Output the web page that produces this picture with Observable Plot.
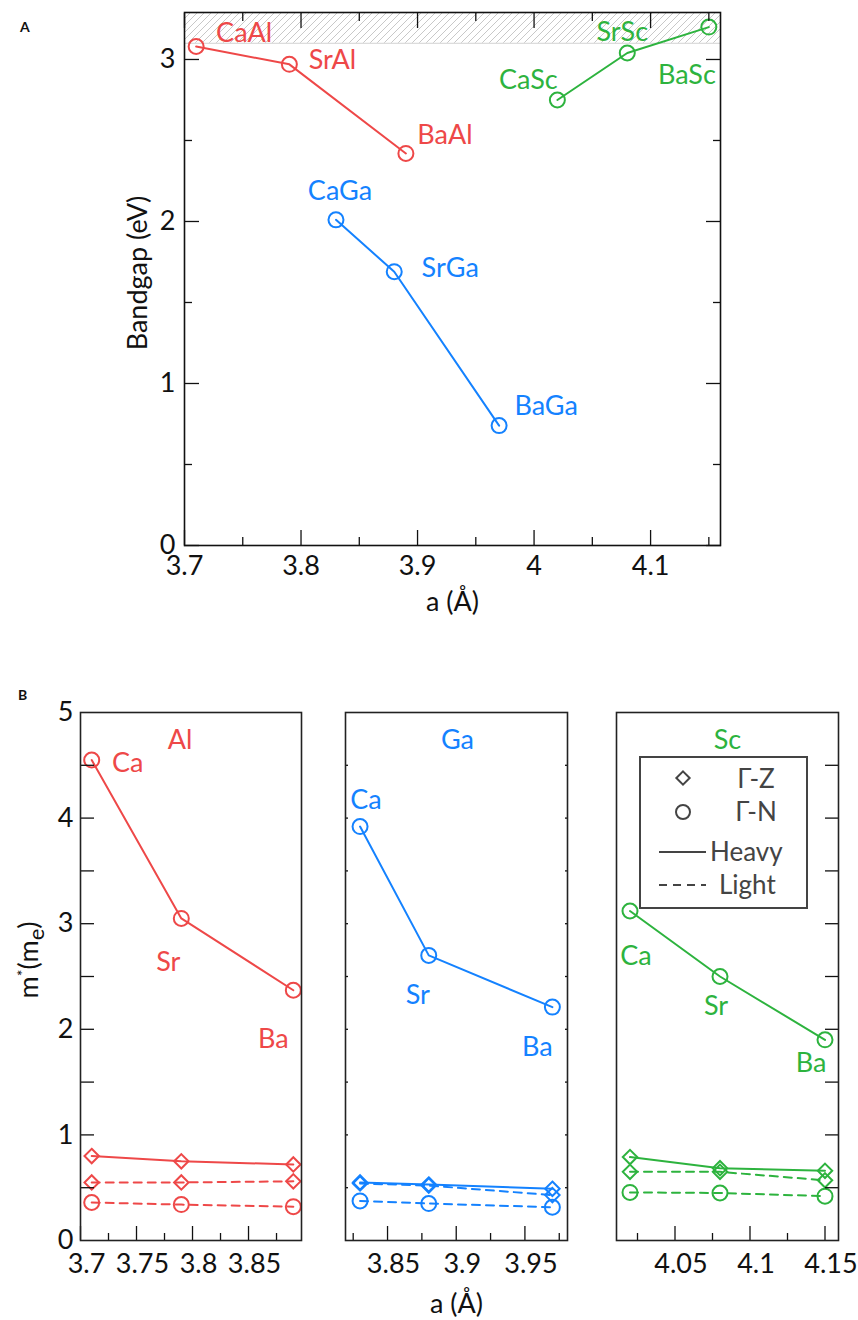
<!DOCTYPE html>
<html>
<head>
<meta charset="utf-8">
<script src="https://cdn.jsdelivr.net/npm/d3@7"></script>
<script src="https://cdn.jsdelivr.net/npm/@observablehq/plot@0.6"></script>
<style>
  body { margin: 0; background: #fff; font-family: Lato, "Open Sans", sans-serif; }
  #root { position: relative; width: 858px; height: 1320px; overflow: hidden; }
  .abs { position: absolute; }
  .panel-letter { position: absolute; font-weight: 700; font-size: 14px; color: #111; }
  #mlabel { position: absolute; left: 30px; top: 960px; transform: translate(-50%, -50%) rotate(-90deg);
            font-size: 27px; color: #111; white-space: nowrap; }
  #mlabel sup { font-size: 16px; vertical-align: 10px; }
  #mlabel sub { font-size: 22px; vertical-align: -6px; }
</style>
</head>
<body>
<div id="root">
  <div class="panel-letter" style="left:20px;top:18px;">A</div>
  <div class="panel-letter" style="left:18px;top:686px;">B</div>
  <div id="mlabel">m<sup>*</sup>(m<sub>e</sub>)</div>
</div>
<script>
// ---------------- DATA ----------------
// Panel A: bandgap vs lattice constant
const compounds = ["CaAl", "SrAl", "BaAl", "CaGa", "SrGa", "BaGa", "CaSc", "SrSc", "BaSc"];
const compoundFamily = ["Al", "Al", "Al", "Ga", "Ga", "Ga", "Sc", "Sc", "Sc"];
const latticeA = [3.71, 3.79, 3.89, 3.83, 3.88, 3.97, 4.02, 4.08, 4.15];
const bandgap = [3.08, 2.97, 2.42, 2.01, 1.69, 0.74, 2.75, 3.04, 3.20];
const hatchBand = [3.1, 3.29];
const xMajorA = [3.7, 3.8, 3.9, 4.0, 4.1];
const xMinorA = [3.75, 3.85, 3.95, 4.05, 4.15];
const yMajorA = [0, 1, 2, 3];
const yMinorA = [0.5, 1.5, 2.5];

// Panel B: effective masses
const cations = ["Ca", "Sr", "Ba"];
const families = ["Al", "Ga", "Sc"];
const latticeAl = [3.71, 3.79, 3.89];
const latticeGa = [3.83, 3.88, 3.97];
const latticeSc = [4.02, 4.08, 4.15];
const heavyGN_Al = [4.55, 3.05, 2.37];
const heavyGZ_Al = [0.80, 0.75, 0.72];
const lightGZ_Al = [0.55, 0.55, 0.56];
const lightGN_Al = [0.36, 0.34, 0.32];
const heavyGN_Ga = [3.92, 2.70, 2.21];
const heavyGZ_Ga = [0.55, 0.53, 0.49];
const lightGZ_Ga = [0.54, 0.52, 0.43];
const lightGN_Ga = [0.375, 0.35, 0.315];
const heavyGN_Sc = [3.12, 2.50, 1.90];
const heavyGZ_Sc = [0.79, 0.685, 0.66];
const lightGZ_Sc = [0.65, 0.65, 0.57];
const lightGN_Sc = [0.455, 0.45, 0.42];
const yMajorB = [0, 1, 2, 3, 4, 5];
const yTicksB = [0.5, 1, 1.5, 2, 2.5, 3, 3.5, 4, 4.5];
const xMajorB = [[3.7, 3.75, 3.8, 3.85], [3.85, 3.9, 3.95], [4.05, 4.1, 4.15]];
const xMinorB = [[3.725, 3.775, 3.825, 3.875], [3.825, 3.875, 3.925, 3.975], [4.025, 4.075, 4.125]];
const xDomainsB = [[3.7, 3.8973], [3.8194, 3.981], [4.011, 4.159]];
const legendLabels = ["Γ-Z", "Γ-N", "Heavy", "Light"];

// ---------------- STYLE ----------------
const FONT = "Lato, 'Open Sans', sans-serif";
const FS = 27;
const colors = {Al: "#EE4848", Ga: "#1482FF", Sc: "#2DB33E"};
const INK = "#111";
const DASH = "8,6";
// label offsets (px) of annotation texts relative to their point
const labelOffA = [[48, -13], [43, -4], [39, -18], [4, -29], [56, -3], [47, -19], [-29, -20], [-5, -21], [-22, 48]];
const labelOffB = {
  Al: [[36, 3], [-13, 44], [-20, 49]],
  Ga: [[6, -26], [-11, 40], [-15, 40]],
  Sc: [[6, 45], [-4, 30], [-14, 23]]
};
const titleDxB = {Al: -11, Ga: 1, Sc: 0};

const root = document.getElementById("root");

function tickMarksX(values, size, anchors) {
  return anchors.map(anchor => Plot.axisX(values, {anchor, tickSize: -size, tickFormat: () => "", label: null, stroke: INK, strokeWidth: 1.3}));
}
function tickMarksY(values, size, anchors) {
  return anchors.map(anchor => Plot.axisY(values, {anchor, tickSize: -size, tickFormat: () => "", label: null, stroke: INK, strokeWidth: 1.3}));
}

// ---------------- PANEL A ----------------
const rowsA = compounds.map((c, i) => ({name: c, fam: compoundFamily[i], a: latticeA[i], gap: bandgap[i]}));

const plotA = Plot.plot({
  width: 858, height: 620,
  marginLeft: 184, marginRight: 138, marginTop: 12, marginBottom: 75,
  x: {domain: [3.7, 4.16]},
  y: {domain: [0, 3.29]},
  color: {type: "identity"},
  style: {fontFamily: FONT, fontSize: FS + "px", color: INK, background: "transparent", overflow: "visible"},
  marks: [
    Plot.rect([hatchBand], {y1: d => d[0], y2: d => d[1], fill: "url(#hatchA)"}),
    Plot.ruleY([hatchBand[0]], {stroke: "#d2d2d2", strokeWidth: 1}),
    Plot.line(rowsA, {x: "a", y: "gap", z: "fam", stroke: d => colors[d.fam], strokeWidth: 2}),
    Plot.dot(rowsA, {x: "a", y: "gap", r: 7.5, stroke: d => colors[d.fam], strokeWidth: 2, fill: "none"}),
    ...rowsA.map((d, i) => Plot.text([d], {x: "a", y: "gap", text: "name", fill: colors[d.fam],
      dx: labelOffA[i][0], dy: labelOffA[i][1], fontSize: FS})),
    ...tickMarksX(xMajorA, 15, ["bottom", "top"]),
    ...tickMarksX(xMinorA, 8, ["bottom", "top"]),
    ...tickMarksY(yMajorA, 15, ["left", "right"]),
    ...tickMarksY(yMinorA, 8, ["left", "right"]),
    Plot.axisX(xMajorA, {anchor: "bottom", tickSize: 0, tickPadding: 10, tickFormat: d => String(d), label: null, fontSize: FS, fill: INK}),
    Plot.axisY(yMajorA, {anchor: "left", tickSize: 0, tickPadding: 9, tickFormat: d => String(d), label: null, fontSize: FS, fill: INK}),
    Plot.frame({stroke: INK, strokeWidth: 1.6}),
    Plot.text(["a (Å)"], {frameAnchor: "bottom", lineAnchor: "middle", text: d => d, dy: 57, fontSize: FS, fill: INK}),
    Plot.text(["Bandgap (eV)"], {frameAnchor: "left", textAnchor: "middle", lineAnchor: "middle", text: d => d, rotate: -90, dx: -46, dy: -6, fontSize: FS, fill: INK})
  ]
});
plotA.classList.add("abs");
plotA.style.left = "0px";
plotA.style.top = "0px";
{
  const defs = d3.select(plotA).insert("defs", ":first-child");
  const pat = defs.append("pattern").attr("id", "hatchA").attr("patternUnits", "userSpaceOnUse")
    .attr("width", 7).attr("height", 7);
  pat.append("path").attr("d", "M-1,1 l2,-2 M0,7 l7,-7 M6,8 l2,-2")
    .attr("stroke", "#c8c8c8").attr("stroke-width", 1).attr("fill", "none");
}
root.appendChild(plotA);

// ---------------- PANEL B ----------------
const seriesB = {
  Al: {lat: latticeAl, hGN: heavyGN_Al, hGZ: heavyGZ_Al, lGZ: lightGZ_Al, lGN: lightGN_Al},
  Ga: {lat: latticeGa, hGN: heavyGN_Ga, hGZ: heavyGZ_Ga, lGZ: lightGZ_Ga, lGN: lightGN_Ga},
  Sc: {lat: latticeSc, hGN: heavyGN_Sc, hGZ: heavyGZ_Sc, lGZ: lightGZ_Sc, lGN: lightGN_Sc}
};
const seriesStyle = [
  {key: "hGN", symbol: "circle", dash: null},
  {key: "hGZ", symbol: "diamond2", dash: null},
  {key: "lGZ", symbol: "diamond2", dash: DASH},
  {key: "lGN", symbol: "circle", dash: DASH}
];
const layoutB = [
  {left: 0, width: 310, ml: 80, mr: 9, yLeft: 14, yRight: 0, yLabels: true},
  {left: 330, width: 250, ml: 15, mr: 13, yLeft: 3, yRight: 3, yLabels: false},
  {left: 600, width: 258, ml: 16, mr: 20, yLeft: 0, yRight: 14, yLabels: false}
];

families.forEach((fam, p) => {
  const S = seriesB[fam];
  const L = layoutB[p];
  const col = colors[fam];
  const marks = [];
  seriesStyle.forEach(st => {
    const rows = S.lat.map((a, i) => ({a, m: S[st.key][i], cation: cations[i]}));
    marks.push(Plot.line(rows, {x: "a", y: "m", stroke: col, strokeWidth: 2, strokeDasharray: st.dash}));
    marks.push(Plot.dot(rows, {x: "a", y: "m", symbol: () => st.symbol, r: st.symbol === "circle" ? 7.5 : 6.5,
      stroke: col, strokeWidth: 2, fill: "none"}));
  });
  const heavyRows = S.lat.map((a, i) => ({a, m: S.hGN[i], cation: cations[i]}));
  heavyRows.forEach((d, i) => {
    marks.push(Plot.text([d], {x: "a", y: "m", text: "cation", fill: col, fontSize: FS,
      dx: labelOffB[fam][i][0], dy: labelOffB[fam][i][1]}));
  });
  marks.push(Plot.text([fam], {frameAnchor: "top", lineAnchor: "middle", text: d => d, dy: 28, dx: titleDxB[fam], fill: col, fontSize: FS}));
  marks.push(...tickMarksX(xMajorB[p], 14, ["bottom"]));
  marks.push(...tickMarksX(xMinorB[p], 7, ["bottom"]));
  if (L.yLeft) marks.push(...tickMarksY(yTicksB, L.yLeft, ["left"]));
  if (L.yRight) marks.push(...tickMarksY(yTicksB, L.yRight, ["right"]));
  marks.push(Plot.axisX(xMajorB[p], {anchor: "bottom", tickSize: 0, tickPadding: 13, dx: 6,
    tickFormat: d => String(d), label: null, fontSize: FS, fill: INK}));
  if (L.yLabels) {
    marks.push(Plot.axisY(yMajorB, {anchor: "left", tickSize: 0, tickPadding: 7, tickFormat: d => String(d),
      label: null, fontSize: FS, fill: INK}));
  } else {
    marks.push(Plot.axisY(yMajorB, {anchor: "left", tickSize: 0, tickFormat: () => "", label: null}));
  }
  marks.push(Plot.frame({stroke: "#222", strokeWidth: 1.6}));
  if (p === 1) {
    marks.push(Plot.text(["a (Å)"], {frameAnchor: "bottom", lineAnchor: "middle", text: d => d, dy: 64, fontSize: FS, fill: INK}));
  }
  const chart = Plot.plot({
    width: L.width, height: 680,
    marginLeft: L.ml, marginRight: L.mr, marginTop: 72, marginBottom: 80,
    x: {domain: xDomainsB[p]},
    y: {domain: [0, 5]},
    style: {fontFamily: FONT, fontSize: FS + "px", color: INK, background: "transparent", overflow: "visible"},
    marks
  });
  chart.classList.add("abs");
  chart.style.left = L.left + "px";
  chart.style.top = "640px";

  if (fam === "Sc") {
    const g = d3.select(chart).append("g").attr("font-family", FONT).attr("font-size", 26)
      .attr("fill", "#444").attr("text-anchor", "start");
    g.append("rect").attr("x", 40).attr("y", 117).attr("width", 167).attr("height", 151)
      .attr("fill", "white").attr("stroke", "#444").attr("stroke-width", 2);
    const dia = d3.symbol(d3.symbolDiamond2, Math.PI * 6 * 6)();
    const cir = d3.symbol(d3.symbolCircle, Math.PI * 7 * 7)();
    g.append("path").attr("d", dia).attr("transform", "translate(83,138)").attr("fill", "none").attr("stroke", "#444").attr("stroke-width", 2);
    g.append("path").attr("d", cir).attr("transform", "translate(83,172)").attr("fill", "none").attr("stroke", "#444").attr("stroke-width", 2);
    g.append("line").attr("x1", 59).attr("x2", 106).attr("y1", 212).attr("y2", 212).attr("stroke", "#444").attr("stroke-width", 2);
    g.append("line").attr("x1", 59).attr("x2", 106).attr("y1", 245).attr("y2", 245).attr("stroke", "#444").attr("stroke-width", 2).attr("stroke-dasharray", DASH);
    g.append("text").attr("x", 156).attr("y", 139).attr("text-anchor", "middle").attr("dy", "0.35em").text(legendLabels[0]);
    g.append("text").attr("x", 156).attr("y", 172).attr("text-anchor", "middle").attr("dy", "0.35em").text(legendLabels[1]);
    g.append("text").attr("x", 110).attr("y", 212).attr("text-anchor", "start").attr("dy", "0.35em").text(legendLabels[2]);
    g.append("text").attr("x", 119).attr("y", 245).attr("text-anchor", "start").attr("dy", "0.35em").text(legendLabels[3]);
  }
  root.appendChild(chart);
});
</script>
</body>
</html>
